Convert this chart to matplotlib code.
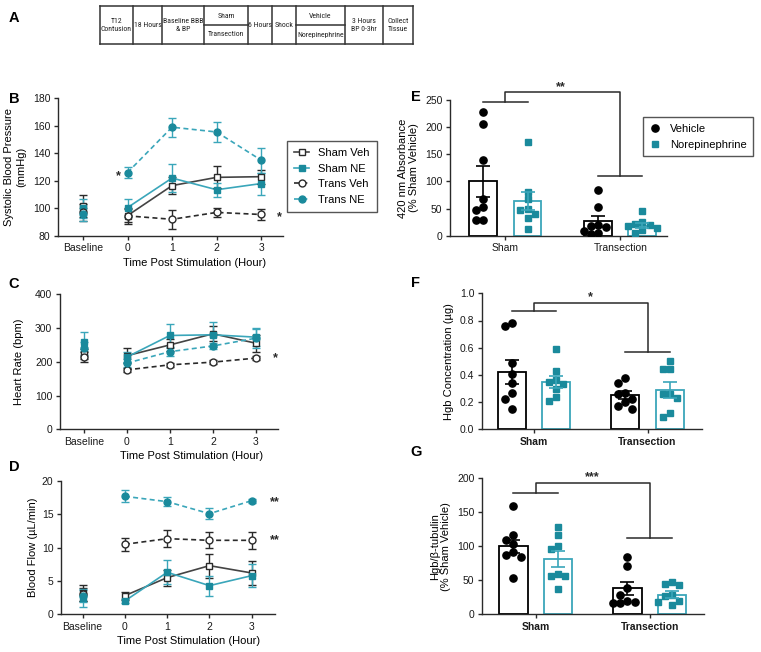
import matplotlib
matplotlib.use('Agg')
import matplotlib.pyplot as plt
from matplotlib.lines import Line2D
from matplotlib import font_manager
from matplotlib.font_manager import FontProperties
import numpy as np

plt.rcParams['font.family'] = ['Liberation Sans', 'DejaVu Sans']

# ---------------- data ----------------
timeline_cells = ["T12\nContusion", "18 Hours", "Baseline BBB\n& BP", ("Sham", "Transection"),
                  "6 Hours", "Shock", ("Vehicle", "Norepinephrine"), "3 Hours\nBP 0-3hr", "Collect\nTissue"]

time_labels = ['Baseline', '0', '1', '2', '3']
series_names = ['Sham Veh', 'Sham NE', 'Trans Veh', 'Trans NE']

# Panel B: systolic blood pressure (baseline, 0, 1, 2, 3 h)
sbp_sham_veh = [102, 94.7, 116.5, 122.5, 123]
sbp_sham_veh_sem = [8, 5, 6, 8, 5]
sbp_sham_ne = [100, 100.5, 122, 113.5, 118]
sbp_sham_ne_sem = [7, 6.5, 10, 5, 8]
sbp_trans_veh = [97, 94.5, 92, 97, 95.5]
sbp_trans_veh_sem = [6, 6, 7, 3, 4]
sbp_trans_ne = [95.5, 126, 159, 155.5, 135]
sbp_trans_ne_sem = [5, 4, 7, 7, 9]

# Panel C: heart rate
hr_sham_veh = [222, 218, 250, 283, 255]
hr_sham_veh_sem = [15, 22, 17, 22, 25]
hr_sham_ne = [260, 214, 278, 280, 273]
hr_sham_ne_sem = [28, 15, 35, 37, 25]
hr_trans_veh = [215, 176, 191, 199, 211]
hr_trans_veh_sem = [15, 5, 6, 5, 7]
hr_trans_ne = [240, 196, 230, 247, 270]
hr_trans_ne_sem = [20, 12, 12, 10, 30]

# Panel D: blood flow
bf_sham_veh = [3.2, 2.8, 5.5, 7.3, 6.2]
bf_sham_veh_sem = [1.2, 0.6, 1.2, 1.8, 1.8]
bf_sham_ne = [2.4, 2.0, 6.3, 4.3, 5.8]
bf_sham_ne_sem = [1.3, 0.3, 1.8, 1.5, 1.7]
bf_trans_veh = [3.0, 10.5, 11.35, 11.1, 11.1]
bf_trans_veh_sem = [1.0, 1.0, 1.3, 1.2, 1.3]
bf_trans_ne = [2.8, 17.7, 16.9, 15.1, 17.05]
bf_trans_ne_sem = [1.0, 0.9, 0.7, 0.8, 0.3]

group_labels = ['Sham', 'Transection']
legend_bar = ['Vehicle', 'Norepinephrine']

# Panel E: 420 nm absorbance (% sham vehicle)
e_veh_means = [100, 26.5]
e_veh_sems = [28, 10]
e_ne_means = [64, 18.5]
e_ne_sems = [17, 4]
e_veh_pts = [[228, 205, 140, 68, 53, 48, 29, 29], [84, 53, 20, 18, 16, 8, 4, 5]]
e_ne_pts = [[173, 80, 67, 50, 47, 40, 32, 13], [45, 25, 22, 20, 18, 15, 10, 5]]

# Panel F: Hgb concentration
f_veh_means = [0.42, 0.25]
f_veh_sems = [0.09, 0.03]
f_ne_means = [0.35, 0.29]
f_ne_sems = [0.045, 0.06]
f_veh_pts = [[0.76, 0.78, 0.49, 0.41, 0.34, 0.27, 0.22, 0.15], [0.38, 0.34, 0.27, 0.26, 0.22, 0.20, 0.17, 0.15]]
f_ne_pts = [[0.59, 0.43, 0.36, 0.35, 0.33, 0.30, 0.24, 0.21], [0.50, 0.44, 0.44, 0.26, 0.26, 0.23, 0.12, 0.09]]

# Panel G: Hgb / beta-tubulin
g_veh_means = [100, 38]
g_veh_sems = [10, 10]
g_ne_means = [81, 29]
g_ne_sems = [12, 5]
g_veh_pts = [[160, 116, 110, 103, 92, 87, 84, 54], [85, 71, 38, 28, 20, 18, 17, 17]]
g_ne_pts = [[128, 117, 100, 96, 60, 57, 57, 37], [47, 44, 43, 28, 27, 20, 18, 13]]

# ---------------- styling ----------------
TEAL_M = '#1a8a9c'
TEAL_L = '#3aa6ba'
DARK = '#2a2a2a'
W, H = 761, 652
fig = plt.figure(figsize=(W / 100, H / 100), dpi=100)


def fx(x):
    return x / W


def fy(y):
    return 1 - y / H


def axes_px(L, T, R, B):
    return fig.add_axes([L / W, 1 - B / H, (R - L) / W, (B - T) / H])


def style_axes(ax, tick_size=7.5):
    for s in ['top', 'right']:
        ax.spines[s].set_visible(False)
    for s in ['left', 'bottom']:
        ax.spines[s].set_linewidth(1.0)
        ax.spines[s].set_color(DARK)
    ax.tick_params(direction='out', length=3, width=1, color=DARK, labelsize=tick_size,
                   labelcolor='#1a1a1a', pad=2.5)


# ---------------- panel A: timeline table ----------------
def find_narrow_font():
    prefs = ['Liberation Sans Narrow', 'Roboto Condensed', 'Open Sans Condensed']
    entries = font_manager.fontManager.ttflist
    for p in prefs:
        for f in entries:
            fn = f.fname.lower()
            if f.name == p and f.style == 'normal' and 'bold' not in fn and 'italic' not in fn \
                    and 'light' not in fn and 'medium' not in fn:
                return FontProperties(fname=f.fname)
    for f in entries:
        fn = f.fname.lower()
        if ('condensed' in fn or 'narrow' in fn) and 'bold' not in fn and 'oblique' not in fn \
                and 'italic' not in fn and 'light' not in fn:
            return FontProperties(fname=f.fname)
    return FontProperties(family='Liberation Sans')


tfont = find_narrow_font()
a_edges = [100, 133, 162, 204, 248, 272, 296, 345, 383, 413]
a_top, a_mid, a_bot = 6, 25, 44
lkw = dict(color='#333333', lw=1.1, transform=fig.transFigure)
fig.add_artist(Line2D([fx(a_edges[0]), fx(a_edges[-1])], [fy(a_top), fy(a_top)], **lkw))
fig.add_artist(Line2D([fx(a_edges[0]), fx(a_edges[-1])], [fy(a_bot), fy(a_bot)], **lkw))
for e in a_edges:
    fig.add_artist(Line2D([fx(e), fx(e)], [fy(a_top), fy(a_bot)], **lkw))
table_texts = []
fit_text = None
for i, cell in enumerate(timeline_cells):
    xc = (a_edges[i] + a_edges[i + 1]) / 2
    cw = a_edges[i + 1] - a_edges[i]
    if isinstance(cell, tuple):
        fig.add_artist(Line2D([fx(a_edges[i]), fx(a_edges[i + 1])], [fy(a_mid), fy(a_mid)], **lkw))
        for txt, yc in [(cell[0], (a_top + a_mid) / 2), (cell[1], (a_mid + a_bot) / 2)]:
            t = fig.text(fx(xc), fy(yc), txt, ha='center', va='center', fontproperties=tfont,
                         color='#222')
            table_texts.append(t)
            if txt == 'Norepinephrine':
                fit_text = (t, cw)
    else:
        t = fig.text(fx(xc), fy((a_top + a_bot) / 2), cell, ha='center', va='center',
                     fontproperties=tfont, color='#222', linespacing=1.3)
        table_texts.append(t)
renderer = fig.canvas.get_renderer()
size = 7.5
while size > 4:
    fit_text[0].set_fontsize(size)
    if fit_text[0].get_window_extent(renderer).width <= fit_text[1] - 2:
        break
    size -= 0.1
for t in table_texts:
    t.set_fontsize(size)

# ---------------- line panels ----------------
styles = [
    dict(lc='#444444', ls='-', m='s', mfc='white', mec=DARK, ec=DARK),
    dict(lc=TEAL_L, ls='-', m='s', mfc=TEAL_M, mec=TEAL_M, ec=TEAL_L),
    dict(lc=DARK, ls=(0, (3, 2)), m='o', mfc='white', mec=DARK, ec=DARK),
    dict(lc=TEAL_L, ls=(0, (3, 2)), m='o', mfc=TEAL_M, mec=TEAL_M, ec=TEAL_L),
]
time_x = np.arange(len(time_labels)) - 1


def line_panel(box, xlim, ylim, yticks, ylabel, data, labelpad):
    ax = axes_px(*box)
    style_axes(ax)
    for (vals, sems), st in zip(data, styles):
        vals = np.asarray(vals, float)
        sems = np.asarray(sems, float)
        ax.plot(time_x[1:], vals[1:], color=st['lc'], ls=st['ls'], lw=1.2, zorder=2)
        ax.errorbar(time_x, vals, yerr=sems, fmt='none', ecolor=st['ec'], elinewidth=1.0,
                    capsize=3.2, capthick=1.0, zorder=3)
        ax.plot(time_x, vals, ls='none', marker=st['m'], ms=5, mfc=st['mfc'], mec=st['mec'],
                mew=1.0, zorder=4)
    ax.set_xlim(*xlim)
    ax.set_ylim(*ylim)
    ax.set_yticks(yticks)
    ax.set_xticks(time_x)
    ax.set_xticklabels(time_labels)
    ax.set_ylabel(ylabel, fontsize=8, labelpad=labelpad, linespacing=1.2)
    ax.set_xlabel('Time Post Stimulation (Hour)', fontsize=8, labelpad=3)
    ax.xaxis.label.set_x((1.5 - xlim[0]) / (xlim[1] - xlim[0]))
    return ax


axB = line_panel((58, 98.3, 283, 235.8), (-1.56, 3.49), (80, 180), np.arange(80, 181, 20),
                 'Systolic Blood Pressure\n(mmHg)',
                 [(sbp_sham_veh, sbp_sham_veh_sem), (sbp_sham_ne, sbp_sham_ne_sem),
                  (sbp_trans_veh, sbp_trans_veh_sem), (sbp_trans_ne, sbp_trans_ne_sem)], 5)
axC = line_panel((60, 294.3, 278, 429.3), (-1.55, 3.51), (0, 400), np.arange(0, 401, 100),
                 'Heart Rate (bpm)',
                 [(hr_sham_veh, hr_sham_veh_sem), (hr_sham_ne, hr_sham_ne_sem),
                  (hr_trans_veh, hr_trans_veh_sem), (hr_trans_ne, hr_trans_ne_sem)], 8)
axD = line_panel((61, 481, 275, 614.3), (-1.51, 3.55), (0, 20), np.arange(0, 21, 5),
                 'Blood Flow (µL/min)',
                 [(bf_sham_veh, bf_sham_veh_sem), (bf_sham_ne, bf_sham_ne_sem),
                  (bf_trans_veh, bf_trans_veh_sem), (bf_trans_ne, bf_trans_ne_sem)], 3)

# legend for B
handles = [Line2D([0], [0], color=st['lc'], ls=st['ls'], lw=1.2, marker=st['m'], ms=5,
                  mfc=st['mfc'], mec=st['mec'], mew=1.0) for st in styles]
legB = fig.legend(handles, series_names, loc='upper left', bbox_to_anchor=(fx(286.5), fy(141)),
                  frameon=True, fancybox=False, fontsize=8, handlelength=1.4,
                  handletextpad=0.8, labelspacing=0.5, borderpad=0.65, borderaxespad=0)
legB.get_frame().set_edgecolor(DARK)
legB.get_frame().set_linewidth(1.0)

# significance stars on line panels
for (x, y, s) in [(118, 176, '*'), (279, 217, '*'), (275, 358, '*'), (275, 502, '**'), (275, 540, '**')]:
    fig.text(fx(x), fy(y), s, ha='center', va='center', fontsize=9, fontweight='bold', color=DARK)

# ---------------- bar panels ----------------
OFF, BW = 0.19, 0.24


def swarm(ax, xc, vals, dpx):
    vals = np.asarray(vals, float)
    pts = ax.transData.transform(np.column_stack([np.full(len(vals), xc), vals]))
    order = np.argsort(-vals, kind='stable')
    placed = []
    xs = np.zeros(len(vals))
    for i in order:
        xp = pts[i, 0]
        for k in [0, -1, 1, -2, 2, -3, 3]:
            cand = pts[i, 0] + k * dpx
            if all((cand - px) ** 2 + (pts[i, 1] - py) ** 2 >= (dpx * 0.95) ** 2 for px, py in placed):
                xp = cand
                break
        placed.append((xp, pts[i, 1]))
        xs[i] = xp
    return ax.transData.inverted().transform(np.column_stack([xs, pts[:, 1]]))[:, 0]


def bar_panel(box, xlim, ylim, yticks, ylabel, vm, vs, nm, ns, vp, npts, bracket, star, bold,
              yfmt=None, xr=0.97):
    ax = axes_px(*box)
    style_axes(ax)
    ax.set_xlim(*xlim)
    ax.set_ylim(*ylim)
    ax.set_yticks(yticks)
    if yfmt:
        ax.set_yticklabels([yfmt.format(v) for v in yticks])
    for gi in range(2):
        xg = gi if gi == 0 else xr
        for xc, m, s, pts, ec, mk, mc, ms in [
                (xg - OFF, vm[gi], vs[gi], vp[gi], 'black', 'o', 'black', 5.2),
                (xg + OFF, nm[gi], ns[gi], npts[gi], TEAL_L, 's', TEAL_M, 4.8)]:
            ax.bar(xc, m, width=BW, facecolor='white', edgecolor=ec, lw=1.3, zorder=2)
            xs = swarm(ax, xc, pts, 7.2)
            ax.plot(xs, pts, ls='none', marker=mk, ms=ms, color=mc, mec=mc, zorder=3)
            ax.errorbar(xc, m, yerr=s, fmt='none', ecolor=ec, elinewidth=1.2, capsize=5,
                        capthick=1.2, zorder=4)
    ax.set_xticks([0, xr])
    ax.set_xticklabels(group_labels, fontweight='bold' if bold else 'normal', fontsize=7.5)
    ax.set_ylabel(ylabel, fontsize=8, linespacing=1.2)
    ys, yt, ytr, sy = bracket
    kw = dict(color=DARK, lw=1.1, clip_on=False, zorder=5)
    ax.plot([-OFF, OFF], [ys, ys], **kw)
    ax.plot([0, 0, xr, xr], [ys, yt, yt, ytr], **kw)
    ax.plot([xr - OFF, xr + OFF], [ytr, ytr], **kw)
    ax.text(0.48, sy, star, ha='center', va='center', fontsize=9, fontweight='bold',
            color=DARK, clip_on=False)
    return ax


axE = bar_panel((450, 100, 667, 235.7), (-0.478, 1.392), (0, 250), np.arange(0, 251, 50),
                '420 nm Absorbance\n(% Sham Vehicle)', e_veh_means, e_veh_sems, e_ne_means,
                e_ne_sems, e_veh_pts, e_ne_pts, (247, 265, 110, 274), '**', False, xr=0.99)
axF = bar_panel((482, 293.3, 701.7, 429.3), (-0.444, 1.433), (0, 1.0), np.arange(0, 1.01, 0.2),
                'Hgb Concentration (µg)', f_veh_means, f_veh_sems, f_ne_means, f_ne_sems,
                f_veh_pts, f_ne_pts, (0.87, 0.93, 0.57, 0.97), '*', True, yfmt='{:.1f}')
axG = bar_panel((482, 478.3, 704, 614.3), (-0.457, 1.431), (0, 200), np.arange(0, 201, 50),
                'Hgb/β-tubulin\n(% Sham Vehicle)', g_veh_means, g_veh_sems, g_ne_means, g_ne_sems,
                g_veh_pts, g_ne_pts, (179, 193.5, 112, 201), '***', True)

# legend for E
hE = [Line2D([0], [0], ls='none', marker='o', ms=5.2, color='black'),
      Line2D([0], [0], ls='none', marker='s', ms=5, color=TEAL_M)]
legE = fig.legend(hE, legend_bar, loc='upper left', bbox_to_anchor=(fx(643), fy(117)),
                  frameon=True, fancybox=False, fontsize=8, handlelength=1.0,
                  handletextpad=0.8, labelspacing=0.55, borderpad=0.6, borderaxespad=0)
legE.get_frame().set_edgecolor(DARK)
legE.get_frame().set_linewidth(1.0)

# panel letters
for (x, y, s) in [(14, 18, 'A'), (14, 99, 'B'), (14, 284, 'C'), (14, 467, 'D'),
                  (416, 97, 'E'), (416, 283, 'F'), (416, 452, 'G')]:
    fig.text(fx(x), fy(y), s, ha='center', va='center', fontsize=10.5, fontweight='bold')

fig.savefig('out.png', dpi=100)
